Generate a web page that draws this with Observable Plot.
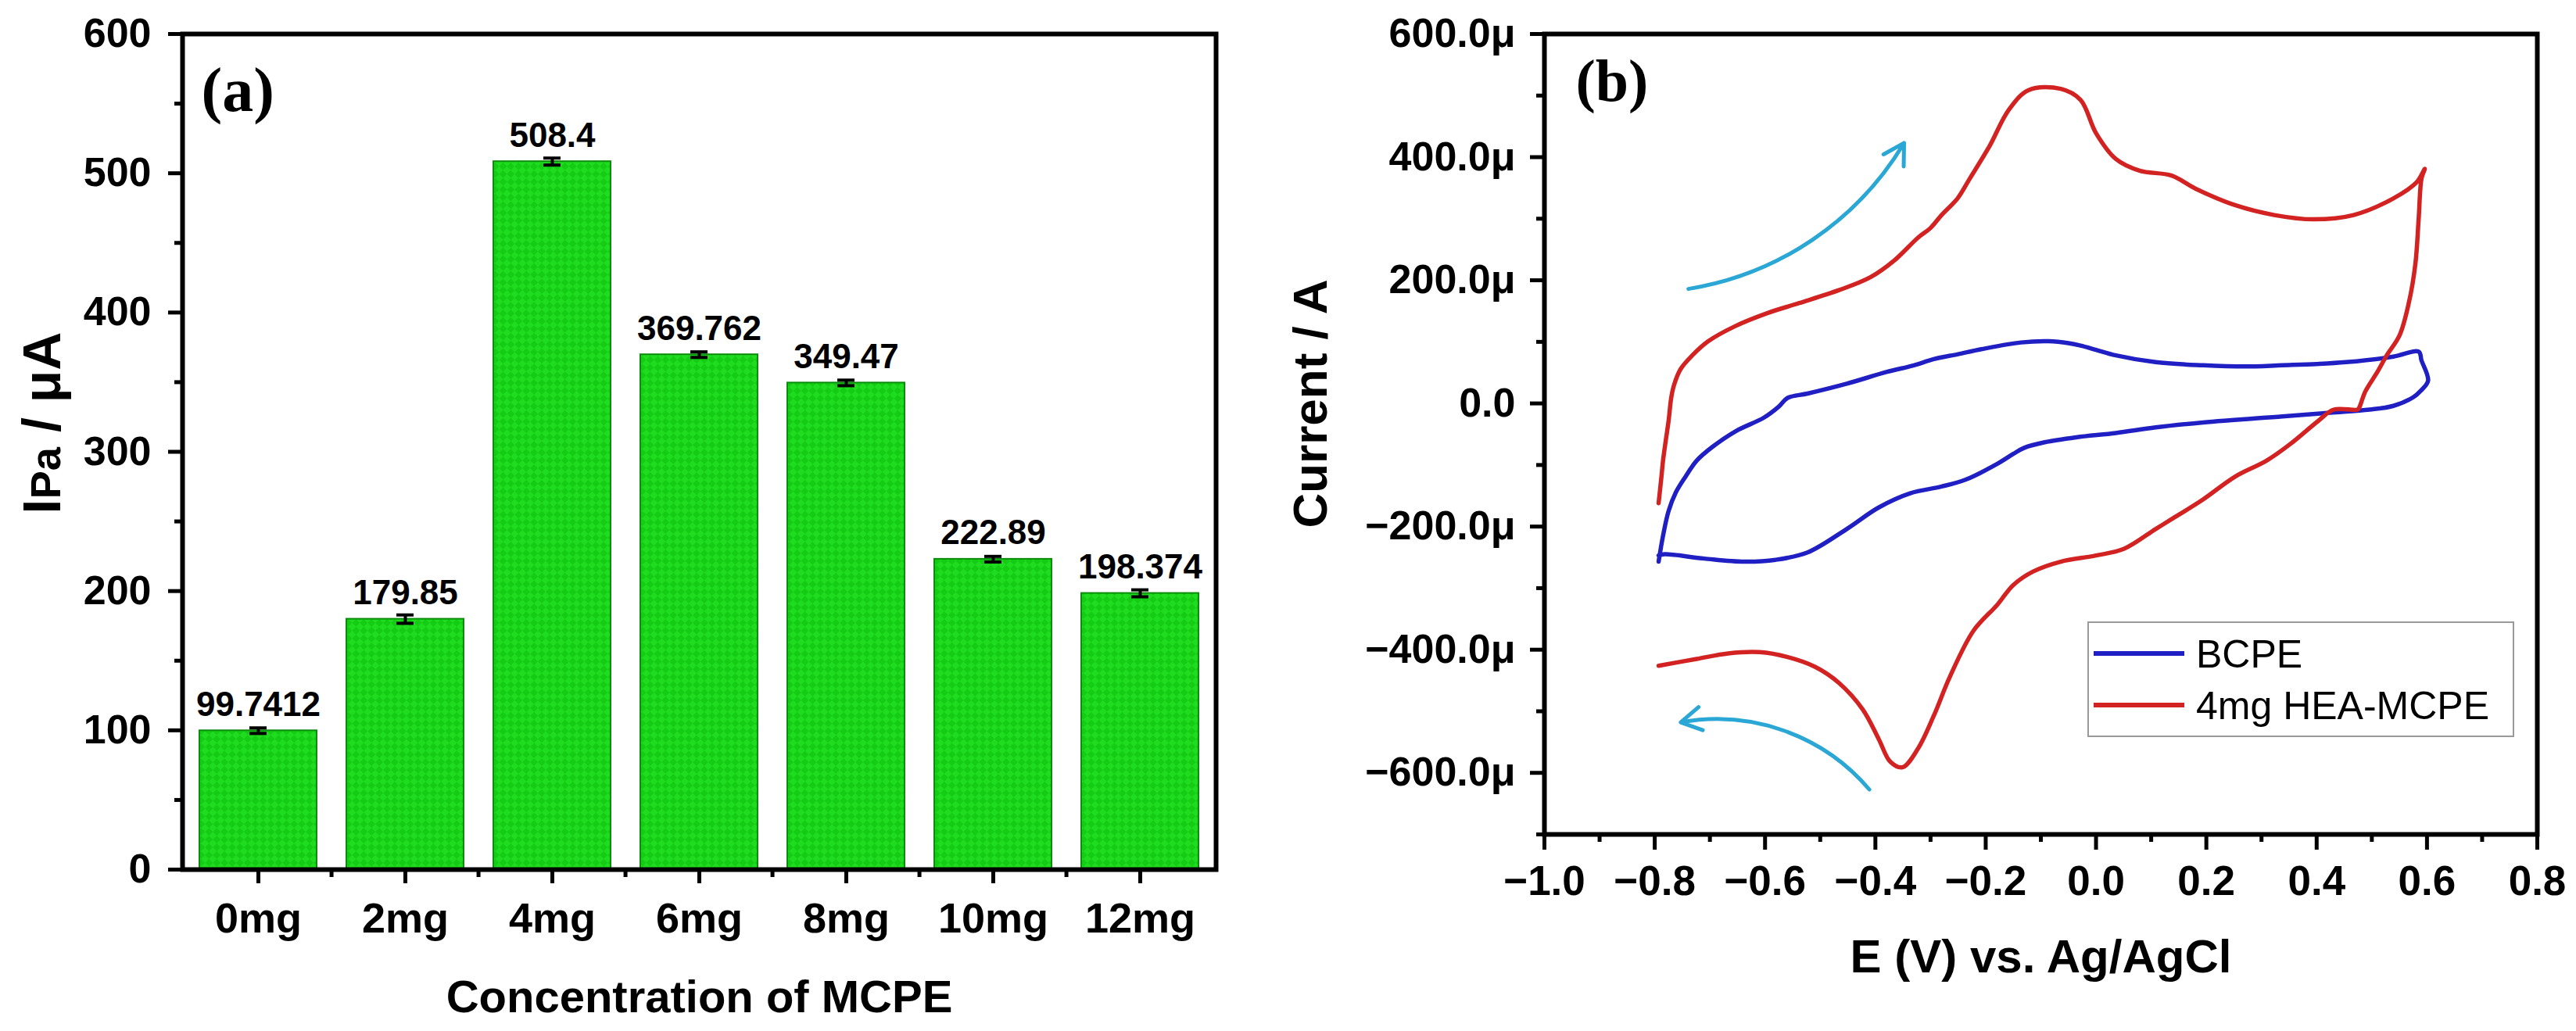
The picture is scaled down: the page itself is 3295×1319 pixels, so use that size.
<!DOCTYPE html>
<html><head><meta charset="utf-8">
<script src="https://cdn.jsdelivr.net/npm/d3@7"></script>
<script src="https://cdn.jsdelivr.net/npm/@observablehq/plot@0.6"></script>
<style>
html,body{margin:0;padding:0;background:#fff;}
#wrap{position:relative;width:3295px;height:1319px;overflow:hidden;background:#fff;}
#wrap svg{position:absolute;top:0;}
</style></head><body><div id="wrap"></div>
<script>
// ---------- Panel (a) data ----------
const categories = ["0mg","2mg","4mg","6mg","8mg","10mg","12mg"];
const ipaValues  = [99.7412,179.85,508.4,369.762,349.47,222.89,198.374];
const ipaErrors  = [2,3,2.5,2,2,2,2.5];
const ipaLabels  = ["99.7412","179.85","508.4","369.762","349.47","222.89","198.374"];
const yTicksA = [0,100,200,300,400,500,600];
const yMinorA = [50,150,250,350,450,550];

// ---------- Panel (b) data: [E (V), I (µA)] ----------
const bcpeCurve = [[-0.793,-257],[-0.785,-215],[-0.775,-175],[-0.762,-145],[-0.745,-120],[-0.724,-93],[-0.696,-71],[-0.653,-45],[-0.602,-23],[-0.575,-5],[-0.559,9],[-0.523,16],[-0.452,32],[-0.380,51],[-0.330,62],[-0.294,72],[-0.250,80],[-0.208,88],[-0.136,99],[-0.086,101],[-0.050,98],[-0.028,94],[0.000,87],[0.036,78],[0.108,67],[0.194,62],[0.270,60],[0.338,62],[0.400,64],[0.453,67],[0.539,76],[0.585,84],[0.590,70],[0.602,37],[0.588,20],[0.575,10],[0.539,-4],[0.496,-10],[0.424,-15],[0.338,-21],[0.194,-31],[0.108,-39],[0.036,-48],[-0.036,-55],[-0.093,-63],[-0.130,-72],[-0.150,-82],[-0.179,-98],[-0.237,-124],[-0.280,-135],[-0.337,-146],[-0.394,-169],[-0.452,-204],[-0.523,-242],[-0.581,-254],[-0.638,-257],[-0.710,-252],[-0.782,-245],[-0.793,-247]];
const heaCurve = [[-0.793,-162],[-0.788,-120],[-0.785,-93],[-0.780,-60],[-0.775,-29],[-0.770,10],[-0.765,30],[-0.753,56],[-0.732,78],[-0.703,101],[-0.653,126],[-0.595,147],[-0.538,163],[-0.466,184],[-0.409,205],[-0.366,232],[-0.323,269],[-0.300,285],[-0.280,306],[-0.251,333],[-0.229,365],[-0.193,418],[-0.158,477],[-0.122,509],[-0.064,511],[-0.028,493],[0.000,439],[0.036,397],[0.079,378],[0.137,370],[0.180,349],[0.252,322],[0.323,306],[0.395,299],[0.467,306],[0.539,333],[0.582,360],[0.596,381],[0.590,365],[0.585,301],[0.579,227],[0.567,163],[0.550,110],[0.527,78],[0.510,51],[0.488,19],[0.477,-7],[0.474,-10],[0.431,-10],[0.402,-29],[0.352,-66],[0.309,-93],[0.252,-119],[0.194,-156],[0.137,-188],[0.108,-204],[0.051,-236],[0.000,-247],[-0.064,-257],[-0.114,-273],[-0.150,-295],[-0.179,-327],[-0.222,-369],[-0.265,-444],[-0.294,-507],[-0.323,-561],[-0.351,-591],[-0.373,-582],[-0.394,-545],[-0.423,-497],[-0.466,-454],[-0.509,-428],[-0.559,-412],[-0.610,-404],[-0.667,-406],[-0.724,-415],[-0.793,-426]];
const arrowUp   = [{x1:-0.739, y1:186, x2:-0.348, y2:423}];
const arrowDown = [{x1:-0.411, y1:-627, x2:-0.753, y2:-518}];
const xTicksB = [-1.0,-0.8,-0.6,-0.4,-0.2,0.0,0.2,0.4,0.6,0.8];
const xMinorB = [-0.9,-0.7,-0.5,-0.3,-0.1,0.1,0.3,0.5,0.7];
const yTicksB = [-600,-400,-200,0,200,400,600];
const yMinorB = [-700,-500,-300,-100,100,300,500];
const legendNames = ["BCPE","4mg HEA-MCPE"];
const legendColors = ["#1f1fc4","#d32222"];

const sans = "'Liberation Sans', Arial, Helvetica, sans-serif";
const serif = "'Liberation Serif', 'Times New Roman', serif";
const wrap = document.getElementById("wrap");

// ---------- Panel (a) ----------
const dataA = categories.map((c,i)=>({c, v: ipaValues[i], e: ipaErrors[i], label: ipaLabels[i]}));
const minorDy = -10 * 600 / 1069;
const stepA = (1620 - 233 - 65) / categories.length;
const plotA = Plot.plot({
  width: 1620, height: 1319,
  marginLeft: 233, marginRight: 65, marginTop: 43, marginBottom: 207,
  style: {fontFamily: sans, background: "white", overflow: "visible", color: "black"},
  x: {domain: categories, paddingInner: 0.2, paddingOuter: 0.1, axis: null},
  y: {domain: [0, 600], axis: null},
  marks: [
    Plot.barY(dataA, {x: "c", y: "v", fill: "url(#chkA)", stroke: "#0c8c0c", strokeWidth: 2}),
    Plot.ruleX(dataA, {x: "c", y1: d => d.v - d.e, y2: d => d.v + d.e, stroke: "black", strokeWidth: 4}),
    Plot.tickY(dataA, {x: "c", y: d => d.v + d.e, stroke: "black", strokeWidth: 4, insetLeft: 64, insetRight: 64}),
    Plot.tickY(dataA, {x: "c", y: d => d.v - d.e, stroke: "black", strokeWidth: 4, insetLeft: 64, insetRight: 64}),
    Plot.text(dataA, {x: "c", y: "v", text: "label", dy: -33, lineAnchor: "middle", fontSize: 44, fontWeight: "bold", fill: "black"}),
    Plot.axisY({ticks: yTicksA, tickSize: 18, tickPadding: 22, strokeWidth: 5, fontSize: 52, fontWeight: "bold", label: null}),
    Plot.axisY({ticks: yMinorA, tickSize: 10, strokeWidth: 5, text: null, label: null}),
    Plot.axisX({tickSize: 18, tickPadding: 24, strokeWidth: 5, fontSize: 54, fontWeight: "bold", label: null}),
    Plot.ruleX(categories.slice(1), {x: d => d, dx: -stepA / 2, y1: 0, y2: minorDy, stroke: "black", strokeWidth: 5}),
    Plot.frame({stroke: "black", strokeWidth: 6}),
    Plot.text(["(a)"], {text: d => d, frameAnchor: "top-left", dx: 24, dy: 73, textAnchor: "start", lineAnchor: "middle", fontFamily: serif, fontSize: 80, fontWeight: "bold"}),
    Plot.text(["IPa / μA"], {text: d => d, frameAnchor: "left", dx: -178, dy: -37, rotate: -90, textAnchor: "middle", lineAnchor: "middle", fontSize: 68, fontWeight: "bold"}),
    Plot.text(["Concentration of MCPE"], {text: d => d, frameAnchor: "bottom", dy: 164, textAnchor: "middle", lineAnchor: "middle", fontSize: 58, fontWeight: "bold"})
  ]
});
plotA.style.left = "0px";
wrap.appendChild(plotA);
// checkered bar fill pattern
const defsA = d3.select(plotA).insert("defs", ":first-child");
const pat = defsA.append("pattern").attr("id", "chkA").attr("patternUnits", "userSpaceOnUse")
  .attr("width", 14).attr("height", 14).attr("patternTransform", "rotate(45)");
pat.append("rect").attr("width", 14).attr("height", 14).attr("fill", "#20dc20");
pat.append("rect").attr("width", 7).attr("height", 7).attr("fill", "#15cc15");
pat.append("rect").attr("x", 7).attr("y", 7).attr("width", 7).attr("height", 7).attr("fill", "#15cc15");
// IPa label with smaller "Pa"
d3.select(plotA).selectAll("text").filter(function(){ return this.textContent === "IPa / μA"; })
  .each(function(){
    const t = d3.select(this); t.text("");
    t.append("tspan").text("I");
    t.append("tspan").attr("font-size", "0.8em").text("Pa");
    t.append("tspan").text(" / μA");
  });

// ---------- Panel (b) ----------
const fmtX = d => (d < 0 ? "\u2212" : "") + Math.abs(d).toFixed(1);
const fmtY = d => d === 0 ? "0.0" : (d < 0 ? "\u2212" : "") + Math.abs(d).toFixed(1) + "μ";
const bcpe = bcpeCurve.map(([E, I]) => ({E, I}));
const hea = heaCurve.map(([E, I]) => ({E, I}));
const plotB = Plot.plot({
  width: 1675, height: 1319,
  marginLeft: 355, marginRight: 50, marginTop: 43, marginBottom: 252,
  style: {fontFamily: sans, background: "white", overflow: "visible", color: "black"},
  x: {domain: [-1, 0.8], axis: null},
  y: {domain: [-700, 600], axis: null},
  marks: [
    Plot.line(bcpe, {x: "E", y: "I", stroke: legendColors[0], strokeWidth: 5.5, strokeLinejoin: "round", curve: "catmull-rom"}),
    Plot.line(hea, {x: "E", y: "I", stroke: legendColors[1], strokeWidth: 5.5, strokeLinejoin: "round", curve: "catmull-rom"}),
    Plot.arrow(arrowUp, {x1: "x1", y1: "y1", x2: "x2", y2: "y2", bend: -25, stroke: "#2aa7d5", strokeWidth: 5, headLength: 9}),
    Plot.arrow(arrowDown, {x1: "x1", y1: "y1", x2: "x2", y2: "y2", bend: -30, stroke: "#2aa7d5", strokeWidth: 5, headLength: 9}),
    Plot.axisY({ticks: yTicksB, tickFormat: fmtY, tickSize: 18, tickPadding: 19, strokeWidth: 5, fontSize: 52, fontWeight: "bold", label: null}),
    Plot.axisY({ticks: yMinorB, tickSize: 10, strokeWidth: 5, text: null, label: null}),
    Plot.axisX({ticks: xTicksB, tickFormat: fmtX, tickSize: 20, tickPadding: 20, strokeWidth: 5, fontSize: 53, fontWeight: "bold", label: null}),
    Plot.axisX({ticks: xMinorB, tickSize: 10, strokeWidth: 5, text: null, label: null}),
    Plot.frame({stroke: "black", strokeWidth: 6}),
    Plot.text(["(b)"], {text: d => d, frameAnchor: "top-left", dx: 40, dy: 61, textAnchor: "start", lineAnchor: "middle", fontFamily: serif, fontSize: 76, fontWeight: "bold"}),
    Plot.text(["Current / A"], {text: d => d, frameAnchor: "left", dx: -298, dy: -39, rotate: -90, textAnchor: "middle", lineAnchor: "middle", fontSize: 62, fontWeight: "bold"}),
    Plot.text(["E (V) vs. Ag/AgCl"], {text: d => d, frameAnchor: "bottom", dy: 157, textAnchor: "middle", lineAnchor: "middle", fontSize: 60, fontWeight: "bold"})
  ]
});
plotB.style.left = "1620px";
wrap.appendChild(plotB);

// legend
const lg = d3.select(plotB).append("g").attr("font-family", sans).attr("font-size", 50)
  .attr("text-anchor", "start").attr("font-weight", "normal");
lg.append("rect").attr("x", 1051).attr("y", 796).attr("width", 544).attr("height", 146)
  .attr("fill", "white").attr("stroke", "#9a9a9a").attr("stroke-width", 2);
legendNames.forEach((name, i) => {
  const y = 836 + i * 66;
  lg.append("line").attr("x1", 1058).attr("x2", 1174).attr("y1", y).attr("y2", y)
    .attr("stroke", legendColors[i]).attr("stroke-width", 6);
  lg.append("text").attr("x", 1189).attr("y", y + 18).attr("fill", "black").text(name);
});
</script></body></html>
